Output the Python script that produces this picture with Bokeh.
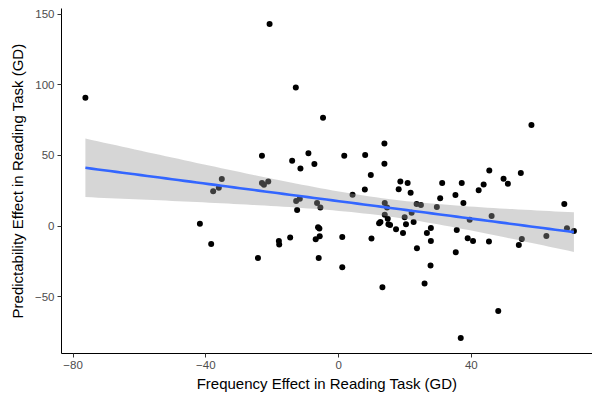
import numpy as np
from bokeh.plotting import figure
from bokeh.models import Range1d, FixedTicker, ColumnDataSource
from bokeh.embed import file_html
from bokeh.resources import INLINE

freq_effect = [-76.3, -20.8, -12.9, -4.7, -23.1, -14.0, -9.1, -11.5, -7.3, -35.2,
               -37.8, -36.1, -23.1, -22.5, -21.2, -12.8, -11.7, -12.5, -6.5, -5.5,
               -41.8, -38.4, -18.0, -17.9, -14.6, -24.3, -6.2, -5.8, -6.9, -5.7,
               -6.0, 1.7, 8.0, 13.8, 13.8, 9.7, 18.6, 20.8, 18.1, 21.7,
               31.2, 30.6, 29.6, 7.9, 4.2, 13.9, 14.6, 13.9, 14.8, 23.5,
               24.8, 22.0, 19.9, 20.3, 22.6, 12.6, 12.2, 15.0, 15.5, 17.3,
               19.4, 26.6, 27.8, 27.8, 23.6, 9.9, 1.1, 1.1, 13.2, 25.9,
               27.7, 35.3, 35.6, 39.5, 38.9, 40.5, 45.3, 46.1, 48.1, 36.8,
               55.2, 54.3, 62.6, 68.0, 68.8, 70.9, 58.1, 45.4, 49.7, 51.0,
               54.9, 37.1, 43.7, 42.2, 35.2, 37.6]
pred_effect = [90.9, 143.2, 98.2, 76.7, 49.8, 46.3, 51.5, 40.8, 43.9, 33.4,
               24.6, 27.2, 30.4, 29.3, 31.6, 17.7, 19.4, 11.3, 16.3, 13.2,
               1.7, -12.7, -10.6, -13.0, -8.2, -22.6, -0.9, -1.8, -9.4, -7.3,
               -22.6, 49.8, 50.3, 58.5, 44.2, 36.1, 31.6, 30.4, 26.0, 23.6,
               30.4, 19.6, 13.4, 25.8, 22.2, 16.3, 13.2, 8.0, 5.2, 15.6,
               14.9, 9.4, 6.2, 1.2, 2.8, 2.8, 1.9, 1.2, 0.7, -2.3,
               -5.0, -5.0, -1.4, -10.6, -15.8, -8.9, -7.8, -29.2, -43.4, -40.8,
               -28.0, -18.6, -2.8, 4.5, -8.7, -10.6, -11.0, 7.1, -60.2, -79.3,
               -9.2, -13.4, -7.1, 15.6, -1.6, -3.5, 71.5, 39.4, 33.5, 30.0,
               37.5, 30.4, 29.5, 25.3, 21.9, 16.3]
x_ticks = [-80, -40, 0, 40]
y_ticks = [-50, 0, 50, 100, 150]

x = np.array(freq_effect)
y = np.array(pred_effect)
n = len(x)
slope, intercept = np.polyfit(x, y, 1)
resid = y - (intercept + slope * x)
s = np.sqrt(np.sum(resid ** 2) / (n - 2))
xs = np.linspace(x.min(), x.max(), 80)
fit = intercept + slope * xs
se = s * np.sqrt(1.0 / n + (xs - x.mean()) ** 2 / np.sum((x - x.mean()) ** 2))
tq = 1.986
band = ColumnDataSource(dict(x=xs, lo=fit - tq * se, hi=fit + tq * se, fit=fit))

p = figure(width=592, height=394,
           x_range=Range1d(-83.5, 76.5), y_range=Range1d(-90.3, 154.1),
           min_border_left=61, min_border_right=0, min_border_top=8, min_border_bottom=41,
           output_backend="svg", toolbar_location=None)
p.grid.visible = False
p.outline_line_color = None
p.background_fill_color = "white"
p.border_fill_color = "white"

p.scatter(x, y, size=6, color="black", line_color=None)
p.varea(x="x", y1="lo", y2="hi", source=band, fill_color="#999999", fill_alpha=0.4)
p.line(x="x", y="fit", source=band, line_color="#3366FF", line_width=2.6)

font = "Liberation Sans"
for ax in (p.xaxis[0], p.yaxis[0]):
    ax.axis_line_color = "black"
    ax.axis_line_width = 1
    ax.major_tick_line_color = "#333333"
    ax.major_tick_out = 4
    ax.major_tick_in = 0
    ax.minor_tick_line_color = None
    ax.major_label_text_color = "#4D4D4D"
    ax.major_label_text_font = font
    ax.major_label_text_font_size = "11.5px"
    ax.axis_label_text_font = font
    ax.axis_label_text_font_size = "15px"
    ax.axis_label_text_font_style = "normal"
    ax.axis_label_text_color = "black"
    ax.major_label_standoff = 3

p.xaxis[0].ticker = FixedTicker(ticks=x_ticks)
p.yaxis[0].ticker = FixedTicker(ticks=y_ticks)
p.xaxis[0].axis_label = "Frequency Effect in Reading Task (GD)"
p.yaxis[0].axis_label = "Predictability Effect in Reading Task (GD)"
p.xaxis[0].axis_label_standoff = 3
p.yaxis[0].axis_label_standoff = 6

open("out.html", "w").write(file_html(p, INLINE))
